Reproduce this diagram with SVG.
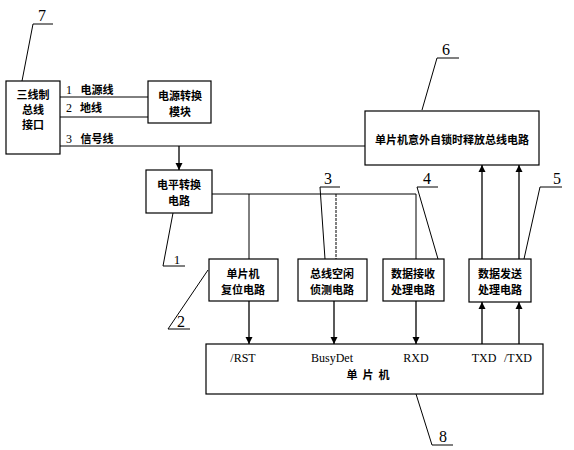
<svg xmlns="http://www.w3.org/2000/svg" width="574" height="450" viewBox="0 0 574 450">
<defs>
<marker id="ah" viewBox="0 0 10 10" refX="10" refY="5" markerWidth="7" markerHeight="8" markerUnits="userSpaceOnUse" orient="auto"><path d="M0,0 L10,5 L0,10 z" fill="#000"/></marker>
<style>
.b{fill:#fff;stroke:#000;stroke-width:1.2}
.l{fill:none;stroke:#000;stroke-width:1}
.a{fill:none;stroke:#000;stroke-width:1.3;marker-end:url(#ah)}
.c{font-family:"Noto Sans CJK SC","Liberation Sans",sans-serif;font-size:11px;font-weight:bold;text-anchor:middle;fill:#000}
.n{font-family:"Liberation Serif",serif;font-size:12px;fill:#000}
.s{font-family:"Liberation Serif",serif;font-size:12px;text-anchor:middle;fill:#000}
.lab{font-family:"Liberation Serif",serif;font-size:16px;text-anchor:middle;fill:#000}
</style>
</defs>
<rect width="574" height="450" fill="#fff"/>
<g id="connectors">
<line class="l" x1="60" y1="97" x2="148" y2="97"/>
<line class="l" x1="58" y1="117" x2="148" y2="117"/>
<line class="l" x1="60" y1="146" x2="365" y2="146"/>
<line class="a" x1="179" y1="146" x2="179" y2="170"/>
<polyline class="l" points="212,194 416,194 416,259"/>
<line class="l" x1="249" y1="194" x2="249" y2="259"/>
<line class="l" x1="336" y1="194" x2="336" y2="259" stroke-dasharray="3,1"/>
<line class="a" x1="249" y1="301" x2="249" y2="344"/>
<line class="a" x1="334" y1="301" x2="334" y2="344"/>
<line class="a" x1="416" y1="301" x2="416" y2="344"/>
<line class="a" x1="482" y1="344" x2="482" y2="302"/>
<line class="a" x1="519" y1="344" x2="519" y2="302"/>
<line class="a" x1="482" y1="259" x2="482" y2="165"/>
<line class="a" x1="519" y1="259" x2="519" y2="165"/>
<text class="n" x="66" y="94">1</text><text class="c" x="97" y="94">电源线</text>
<text class="n" x="66" y="112">2</text><text class="c" x="91" y="112">地线</text>
<text class="n" x="66" y="143">3</text><text class="c" x="97" y="143">信号线</text>
</g>
<g id="n7"><rect class="b" x="6" y="81" width="54" height="73"/>
<text class="c" x="33" y="99">三线制</text><text class="c" x="33" y="114">总线</text><text class="c" x="33" y="129">接口</text></g>
<g id="power"><rect class="b" x="148" y="81" width="63" height="42"/>
<text class="c" x="180" y="100">电源转换</text><text class="c" x="180" y="116">模块</text></g>
<g id="n6"><rect class="b" x="365" y="111" width="174" height="54"/>
<text class="c" x="452" y="144">单片机意外自锁时释放总线电路</text></g>
<g id="level"><rect class="b" x="146" y="170" width="66" height="43"/>
<text class="c" x="179" y="189">电平转换</text><text class="c" x="179" y="205">电路</text></g>
<g id="reset"><rect class="b" x="209" y="259" width="69" height="42"/>
<text class="c" x="243" y="278">单片机</text><text class="c" x="243" y="294">复位电路</text></g>
<g id="busy"><rect class="b" x="298" y="259" width="69" height="42"/>
<text class="c" x="332" y="278">总线空闲</text><text class="c" x="332" y="294">侦测电路</text></g>
<g id="rx"><rect class="b" x="383" y="259" width="61" height="42"/>
<text class="c" x="413" y="278">数据接收</text><text class="c" x="413" y="294">处理电路</text></g>
<g id="tx"><rect class="b" x="469" y="259" width="62" height="43"/>
<text class="c" x="500" y="278">数据发送</text><text class="c" x="500" y="294">处理电路</text></g>
<g id="mcu"><rect class="b" x="206" y="344" width="337" height="50"/>
<text class="s" x="243" y="362">/RST</text><text class="s" x="332" y="362">BusyDet</text><text class="s" x="416" y="362">RXD</text><text class="s" x="484" y="362">TXD</text><text class="s" x="518" y="362">/TXD</text>
<text class="c" x="368" y="379" xml:space="preserve">单  片  机</text></g>
<g id="labels">
<polyline class="l" points="22,81 33,24 53,24"/><text class="lab" x="42" y="21">7</text>
<polyline class="l" points="422,110 437,58 459,58"/><text class="lab" x="446" y="55">6</text>
<polyline class="l" points="173,213 163,266 185,266"/><text class="lab" x="177" y="264" style="font-size:13px">1</text>
<polyline class="l" points="208,270 168,329 190,329"/><text class="lab" x="181" y="327">2</text>
<polyline class="l" points="340,187 320,187 325,259"/><text class="lab" x="328" y="184">3</text>
<polyline class="l" points="438,187 417,187 438,259"/><text class="lab" x="427" y="184">4</text>
<polyline class="l" points="562,187 540,187 524,259"/><text class="lab" x="557" y="184">5</text>
<polyline class="l" points="416,394 432,445 453,445"/><text class="lab" x="443" y="442">8</text>
</g>
</svg>
